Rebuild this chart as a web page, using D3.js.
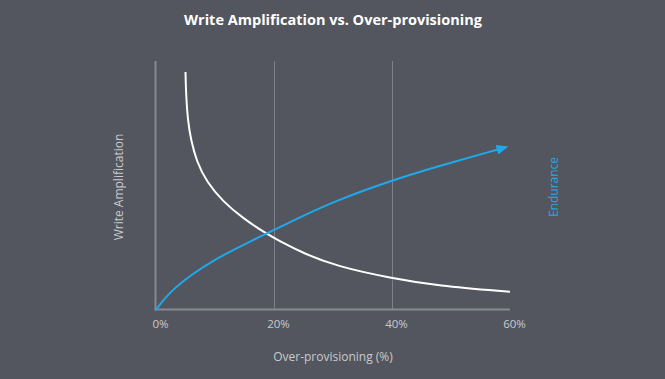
<!DOCTYPE html>
<html>
<head>
<meta charset="utf-8">
<script src="https://cdn.jsdelivr.net/npm/d3@7"></script>
<style>
  html, body { margin: 0; padding: 0; background: #53565e; }
  svg { display: block; }
</style>
</head>
<body>
<script>
// values (y is a unitless 0-100 scale)
var xTicks = [0, 20, 40, 60];
var waX = [5.0, 5.1, 5.4, 5.9, 6.9, 8.6, 11.4, 14.8, 18.5, 21.0, 25.0, 30.6, 39.9, 47.6, 60];
var waY = [95.6, 86.0, 76.0, 68.5, 59.4, 51.3, 43.3, 36.6, 30.8, 27.4, 22.6, 17.4, 12.6, 9.6, 7.1];
var endX = [0, 2.4, 5.8, 10.3, 14.8, 18.5, 25.0, 30.6, 39.9, 47.6, 60];
var endY = [0, 7.2, 13.7, 20.6, 26.0, 30.3, 37.8, 43.9, 51.9, 57.5, 65.2];

var width = 665, height = 379;
var margin = {top: 61, right: 155, bottom: 70, left: 156};

var svg = d3.select('body').append('svg')
    .attr('width', width)
    .attr('height', height);

svg.append('rect')
    .attr('width', width)
    .attr('height', height)
    .attr('fill', '#53565e');

var x = d3.scaleLinear().domain([0, 60]).range([margin.left, width - margin.right]);
var y = d3.scaleLinear().domain([0, 100]).range([height - margin.bottom + 0.5, margin.top]);

var font = "'Open Sans', 'Noto Sans', sans-serif";

// title
svg.append('text')
    .attr('x', 333)
    .attr('y', 25)
    .attr('text-anchor', 'middle')
    .attr('fill', '#ffffff')
    .style('font-family', font)
    .style('font-weight', 'bold')
    .style('font-size', '14.5px')
    .text('Write Amplification vs. Over-provisioning');

// gridlines at 20% and 40%
svg.selectAll('line.grid')
    .data([20, 40])
    .enter().append('line')
    .attr('class', 'grid')
    .attr('x1', function(d) { return Math.round(x(d)) + 0.5; })
    .attr('x2', function(d) { return Math.round(x(d)) + 0.5; })
    .attr('y1', y(100))
    .attr('y2', y(0))
    .attr('stroke', '#7d8088')
    .attr('stroke-width', 1);

// axes lines
svg.append('line')
    .attr('x1', x(0) - 0.5).attr('x2', x(0) - 0.5)
    .attr('y1', y(100)).attr('y2', y(0) + 1)
    .attr('stroke', '#868990').attr('stroke-width', 2);

svg.append('line')
    .attr('x1', x(0) - 1.5).attr('x2', x(60))
    .attr('y1', y(0)).attr('y2', y(0))
    .attr('stroke', '#868990').attr('stroke-width', 2);

// tick labels
var xAxis = d3.axisBottom(x)
    .tickValues(xTicks)
    .tickSize(0)
    .tickPadding(0)
    .tickFormat(function(d) { return d + '%'; });

var gx = svg.append('g')
    .attr('transform', 'translate(0,' + (y(0) + 18) + ')')
    .call(xAxis);
gx.select('.domain').remove();
gx.selectAll('text')
    .attr('dx', 4)
    .attr('dy', 0)
    .attr('fill', '#c9cacd')
    .style('font-family', font)
    .style('font-size', '11.5px');

// axis titles
svg.append('text')
    .attr('x', 333)
    .attr('y', 361)
    .attr('text-anchor', 'middle')
    .attr('fill', '#c9cacd')
    .style('font-family', font)
    .style('font-size', '12px')
    .text('Over-provisioning (%)');

svg.append('text')
    .attr('transform', 'translate(123,187) rotate(-90)')
    .attr('text-anchor', 'middle')
    .attr('fill', '#c9cacd')
    .style('font-family', font)
    .style('font-size', '12px')
    .text('Write Amplification');

svg.append('text')
    .attr('transform', 'translate(558,187) rotate(-90)')
    .attr('text-anchor', 'middle')
    .attr('fill', '#1fa9ec')
    .style('font-family', font)
    .style('font-size', '12px')
    .text('Endurance');

// arrow marker
svg.append('defs').append('marker')
    .attr('id', 'arrow')
    .attr('viewBox', '0 0 12 10')
    .attr('refX', 2)
    .attr('refY', 5)
    .attr('markerWidth', 6)
    .attr('markerHeight', 5)
    .attr('markerUnits', 'strokeWidth')
    .attr('orient', 'auto')
    .append('path')
    .attr('d', 'M0,0 L12,5 L0,10 z')
    .attr('fill', '#1fa9ec');

var line = d3.line()
    .x(function(d) { return x(d[0]); })
    .y(function(d) { return y(d[1]); })
    .curve(d3.curveBasis);

svg.append('path')
    .datum(d3.zip(waX, waY))
    .attr('d', line)
    .attr('fill', 'none')
    .attr('stroke', '#ffffff')
    .attr('stroke-width', 2);

// shorten the last point a little so the arrow tip lands at 60%
var endPts = d3.zip(endX, endY);
endPts[endPts.length - 1] = [endX[endX.length - 1] - 1.9, endY[endY.length - 1] - 0.7];

svg.append('path')
    .datum(endPts)
    .attr('d', line)
    .attr('fill', 'none')
    .attr('stroke', '#1fa9ec')
    .attr('stroke-width', 2)
    .attr('marker-end', 'url(#arrow)');
</script>
</body>
</html>
